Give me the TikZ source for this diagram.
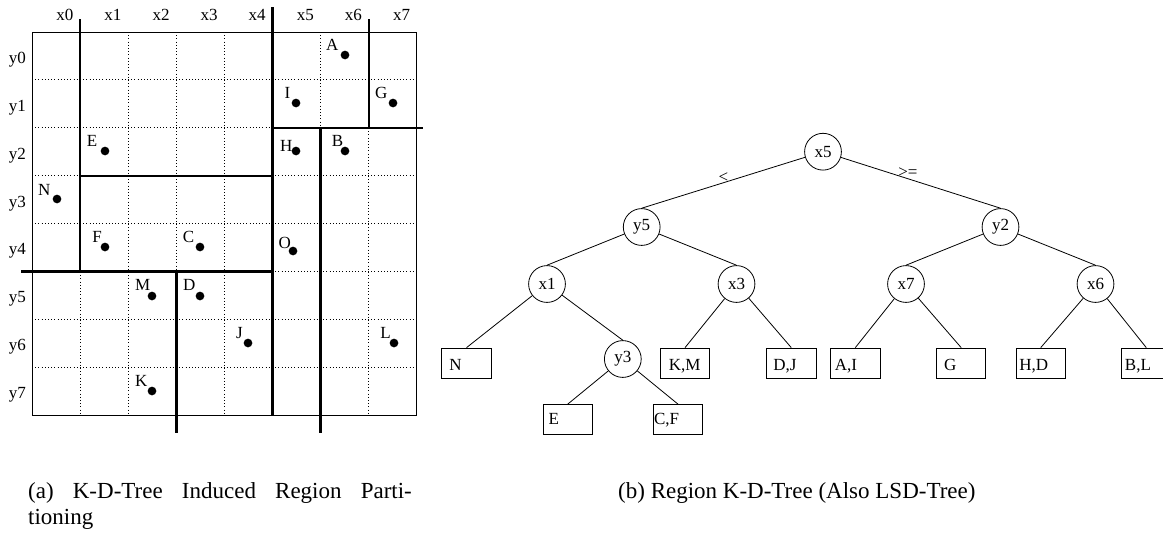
\documentclass[tikz,border=0pt]{standalone}
\usepackage{fontspec}
\setmainfont{Liberation Serif}
% leaf text: horizontal inset, drop below the box centre, text
\newcommand\leaftext[3]{\makebox[49.3pt][l]{\hspace*{#1pt}\raisebox{-#2pt}[0pt][0pt]{#3}}}
\begin{document}
\begin{tikzpicture}[x=1pt,y=-1pt,
  lbl/.style={font=\fontsize{17}{20}\selectfont, inner sep=0pt},
  captext/.style={font=\fontsize{23}{26}\selectfont, inner sep=0pt},
  gridline/.style={line width=0.9pt, dash pattern=on 1pt off 2.2pt},
  border/.style={line width=1pt},
  part/.style={line width=2.4pt},
  dot/.style={circle, fill=black, inner sep=0pt, minimum size=8.7pt},
  split/.style={circle, draw, line width=0.8pt, minimum size=36.8pt, inner sep=0pt, font=\fontsize{17}{20}\selectfont},
  leaf/.style={rectangle, draw, line width=0.8pt, minimum width=49.3pt, minimum height=30.3pt, inner sep=0pt, font=\fontsize{17}{20}\selectfont},
  edge/.style={line width=0.8pt},
  elabel/.style={font=\fontsize{17}{20}\selectfont, inner sep=0pt}]
\useasboundingbox (0,0) rectangle (1163,536);
\clip (0,0) rectangle (1163,536);

% ---- (a) region partitioning ----
\foreach \i in {1,...,7} {
  \draw[gridline] ({32+48.1*\i},32) -- ({32+48.1*\i},415.2);
  \draw[gridline] (32,{32+47.9*\i}) -- (416.8,{32+47.9*\i});
}
\draw[border] (32,32) rectangle (416.8,415.2);

% splitting lines
\draw[part] (80.1,19) -- (80.1,271.5);
\draw[part] (272.5,7.3) -- (272.5,415.2);
\draw[part] (368.7,19.3) -- (368.7,127.8);
\draw[part] (272.5,127.8) -- (422.7,127.8);
\draw[part] (320.6,127.8) -- (320.6,432.7);
\draw[part] (80.1,175.7) -- (272.5,175.7);
\draw[part] (21,271.5) -- (272.5,271.5);
\draw[part] (176.3,271.5) -- (176.3,432.7);

% axis labels
\foreach \i in {0,...,7} {
  \node[lbl, anchor=base] (cx\i) at ({64.8+48.1*\i},20.5) {x\i};
  \node[lbl, anchor=base] (ry\i) at (17.5,{63.3+47.9*\i}) {y\i};
}

% data points
\node[dot] (pA) at (345,55) {};   \node[lbl, anchor=base east] (tA) at (338.5,50) {A};
\node[dot] (pI) at (296,103) {};  \node[lbl, anchor=base east] (tI) at (290.5,98) {I};
\node[dot] (pG) at (393,103) {};  \node[lbl, anchor=base east] (tG) at (387.5,98.5) {G};
\node[dot] (pE) at (105,151) {};  \node[lbl, anchor=base east] (tE) at (97.5,146.5) {E};
\node[dot] (pH) at (296,151) {};  \node[lbl, anchor=base east] (tH) at (292.5,151.5) {H};
\node[dot] (pB) at (345,151) {};  \node[lbl, anchor=base east] (tB) at (343.5,146) {B};
\node[dot] (pN) at (57,199) {};   \node[lbl, anchor=base east] (tN) at (50.5,195) {N};
\node[dot] (pF) at (105,247) {};  \node[lbl, anchor=base east] (tF) at (102,242.5) {F};
\node[dot] (pC) at (200,247) {};  \node[lbl, anchor=base east] (tC) at (194.5,242.5) {C};
\node[dot] (pO) at (293,251) {};  \node[lbl, anchor=base east] (tO) at (291,248) {O};
\node[dot] (pM) at (152,296) {};  \node[lbl, anchor=base east] (tM) at (150.5,290.5) {M};
\node[dot] (pD) at (200,296) {};  \node[lbl, anchor=base east] (tD) at (195.5,290.5) {D};
\node[dot] (pJ) at (248,343) {};  \node[lbl, anchor=base east] (tJ) at (243,338.5) {J};
\node[dot] (pL) at (394,343) {};  \node[lbl, anchor=base east] (tL) at (391,338.5) {L};
\node[dot] (pK) at (152,391) {};  \node[lbl, anchor=base east] (tK) at (147.5,386.5) {K};

% ---- (b) region k-d-tree ----
\node[split] (s0) at (823,151.7) {x5};
\node[split] (s1) at (641.7,227) {y5};
\node[split] (s2) at (1000.5,227) {y2};
\node[split] (s3) at (547,284) {x1};
\node[split] (s4) at (736.5,284) {x3};
\node[split] (s5) at (906,284) {x7};
\node[split] (s6) at (1095.5,284) {x6};
\node[split] (s7) at (622.8,359) {y3};

\node[leaf] (lN)  at (466.5,363.2)  {\leaftext{7.6}{7.7}{N}};
\node[leaf] (lKM) at (685,363.2)    {\leaftext{8.6}{7.7}{K,M}};
\node[leaf] (lDJ) at (791.3,363.2)  {\leaftext{6.6}{7.7}{D,J}};
\node[leaf] (lE)  at (567.7,419.7)  {\leaftext{5.6}{4.3}{E}};
\node[leaf] (lCF) at (678,419.7)    {\leaftext{0.7}{4.3}{C,F}};
\node[leaf] (lAI) at (855.3,363.2)  {\leaftext{4.3}{7.7}{A,I}};
\node[leaf] (lG)  at (961.2,363.2)  {\leaftext{7.6}{7.7}{G}};
\node[leaf] (lHD) at (1040.7,363.2) {\leaftext{3.3}{7.7}{H,D}};
\node[leaf] (lBL) at (1146.3,363.2) {\leaftext{3.3}{7.7}{B,L}};

\draw[edge] (s0) -- node[elabel, pos=0.5, yshift=5.5pt] {<} (s1.north);
\draw[edge] (s0) -- node[elabel, pos=0.42, yshift=6pt] {>=} (s2.north);
\draw[edge] (s1) -- (s3.north);
\draw[edge] (s1) -- (s4.north);
\draw[edge] (s2) -- (s5.north);
\draw[edge] (s2) -- (s6.north);
\draw[edge] (s3) -- (lN.north);
\draw[edge] (s3) -- (s7.north);
\draw[edge] (s7) -- (lE.north);
\draw[edge] (s7) -- (lCF.north);
\draw[edge] (s4) -- (lKM.north);
\draw[edge] (s4) -- (lDJ.north);
\draw[edge] (s5) -- (lAI.north);
\draw[edge] (s5) -- (lG.north);
\draw[edge] (s6) -- (lHD.north);
\draw[edge] (s6) -- (lBL.north);

% ---- captions ----
\node[captext, anchor=base west] (capa) at (28,498) {\makebox[383.7pt][s]{(a)\ K-D-Tree Induced Region Parti-}};
\node[captext, anchor=base west] (capa2) at (28,524) {tioning};
\node[captext, anchor=base west] (capb) at (618,498) {(b) Region K-D-Tree (Also LSD-Tree)};
\end{tikzpicture}
\end{document}
